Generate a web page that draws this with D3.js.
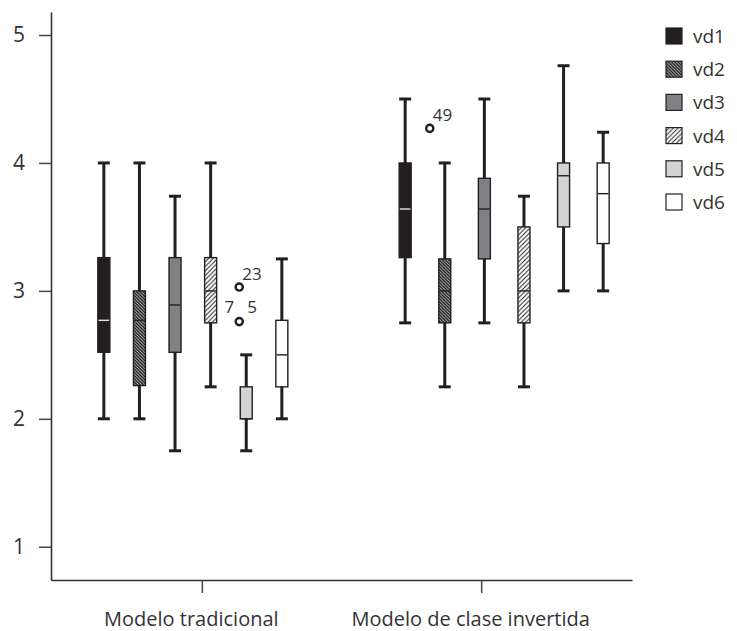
<!DOCTYPE html>
<html>
<head>
<meta charset="utf-8">
<script src="https://cdn.jsdelivr.net/npm/d3@7"></script>
<style>
  body { margin: 0; background: #fff; }
  svg { display: block; font-family: "Open Sans", "Noto Sans", sans-serif; }
</style>
</head>
<body>
<svg></svg>
<script>
// data
var groups = ["Modelo tradicional", "Modelo de clase invertida"];
var series = ["vd1", "vd2", "vd3", "vd4", "vd5", "vd6"];

// one row per group, one value per series
var whiskerLow  = [[2.00, 2.00, 1.75, 2.25, 1.75, 2.00], [2.75, 2.25, 2.75, 2.25, 3.00, 3.00]];
var q1          = [[2.52, 2.26, 2.52, 2.75, 2.00, 2.25], [3.26, 2.75, 3.25, 2.75, 3.50, 3.37]];
var median      = [[2.77, 2.77, 2.89, 3.00, 2.00, 2.50], [3.64, 3.00, 3.64, 3.00, 3.90, 3.76]];
var q3          = [[3.26, 3.00, 3.26, 3.26, 2.25, 2.77], [4.00, 3.25, 3.88, 3.50, 4.00, 4.00]];
var whiskerHigh = [[4.00, 4.00, 3.74, 4.00, 2.50, 3.25], [4.50, 4.00, 4.50, 3.74, 4.76, 4.24]];

// outliers (case numbers as labels)
var outlierGroup  = [0, 0, 1];
var outlierSeries = [4, 4, 1];
var outlierValue  = [3.03, 2.76, 4.27];
var outlierLabels = [["23"], ["7", "5"], ["49"]];

var yTicks = [1, 2, 3, 4, 5];

// layout
var svgWidth = 737, svgHeight = 631;
var boxWidth = 12, capWidth = 12;
var innerRange = [[-98, 80], [-76, 122]];   // box slots around each group tick
var outlierShift = [-7, -15];               // outliers sit a bit left of their box
var ink = "#231f20";

var svg = d3.select("svg")
    .attr("width", svgWidth)
    .attr("height", svgHeight);

// hatch patterns for vd2 and vd4
var defs = svg.append("defs");
defs.append("pattern")
    .attr("id", "hatchBack")
    .attr("patternUnits", "userSpaceOnUse")
    .attr("width", 3.2).attr("height", 3.2)
    .call(function(p) {
        p.append("rect").attr("width", 3.2).attr("height", 3.2).attr("fill", "#bbb");
        p.append("path")
            .attr("d", "M0,0L3.2,3.2M-1,2.2L1,4.2M2.2,-1L4.2,1")
            .attr("stroke", ink).attr("stroke-width", 1.4);
    });
defs.append("pattern")
    .attr("id", "hatchFwd")
    .attr("patternUnits", "userSpaceOnUse")
    .attr("width", 4.5).attr("height", 4.5)
    .call(function(p) {
        p.append("rect").attr("width", 4.5).attr("height", 4.5).attr("fill", "#fff");
        p.append("path")
            .attr("d", "M0,4.5L4.5,0M-1,1L1,-1M3.5,5.5L5.5,3.5")
            .attr("stroke", ink).attr("stroke-width", 1);
    });

var fills = [ink, "url(#hatchBack)", "#808184", "url(#hatchFwd)", "#d2d3d5", "#ffffff"];
var medianColor = ["#e6e6e6", ink, ink, ink, ink, ink];

var xScale = d3.scalePoint()
    .domain(groups)
    .range([51, 632])
    .padding(0.54);

var innerScale = innerRange.map(function(r) {
    return d3.scalePoint().domain(series).range(r);
});

var yScale = d3.scaleLinear()
    .domain([0.74, 5.18])
    .range([580, 12]);

function boxX(g, s) {
    return xScale(groups[g]) + innerScale[g](series[s]);
}

// axes
var y_axis = d3.axisLeft(yScale)
    .tickValues(yTicks)
    .tickFormat(d3.format("d"))
    .tickSize(12)
    .tickSizeOuter(0)
    .tickPadding(14);

var gy = svg.append("g")
    .attr("transform", "translate(51, 0)")
    .call(y_axis);

var x_axis = d3.axisBottom(xScale)
    .tickSize(13)
    .tickSizeOuter(0)
    .tickPadding(19);

var gx = svg.append("g")
    .attr("transform", "translate(0, 580)")
    .call(x_axis);

[gx, gy].forEach(function(g) {
    g.select(".domain").attr("stroke", "#333").attr("stroke-width", 1.6);
    g.selectAll(".tick line").attr("stroke", "#444").attr("stroke-width", 1.5);
    g.selectAll(".tick text")
        .attr("font-family", "'Open Sans', 'Noto Sans', sans-serif")
        .attr("font-size", 20)
        .attr("fill", "#333");
});
gy.selectAll(".tick text").attr("font-size", 21);
gx.selectAll(".tick text").attr("dx", -11);

// one record per box
var boxes = [];
groups.forEach(function(gName, g) {
    series.forEach(function(sName, s) {
        boxes.push({ g: g, s: s });
    });
});

var box = svg.append("g").selectAll("g")
    .data(boxes)
    .enter()
    .append("g")
    .attr("transform", function(d) {
        return "translate(" + boxX(d.g, d.s) + ",0)";
    });

// whisker stem
box.append("line")
    .attr("x1", 0).attr("x2", 0)
    .attr("y1", function(d) { return yScale(whiskerLow[d.g][d.s]); })
    .attr("y2", function(d) { return yScale(whiskerHigh[d.g][d.s]); })
    .attr("stroke", ink)
    .attr("stroke-width", 3);

// caps
[whiskerLow, whiskerHigh].forEach(function(arr) {
    box.append("line")
        .attr("x1", -capWidth / 2).attr("x2", capWidth / 2)
        .attr("y1", function(d) { return yScale(arr[d.g][d.s]); })
        .attr("y2", function(d) { return yScale(arr[d.g][d.s]); })
        .attr("stroke", ink)
        .attr("stroke-width", 3);
});

// box
box.append("rect")
    .attr("x", -boxWidth / 2)
    .attr("width", boxWidth)
    .attr("y", function(d) { return yScale(q3[d.g][d.s]); })
    .attr("height", function(d) { return yScale(q1[d.g][d.s]) - yScale(q3[d.g][d.s]); })
    .attr("fill", function(d) { return fills[d.s]; })
    .attr("stroke", ink)
    .attr("stroke-width", 1.4);

// median
box.append("line")
    .attr("x1", -boxWidth / 2 + 0.7).attr("x2", boxWidth / 2 - 0.7)
    .attr("y1", function(d) { return yScale(median[d.g][d.s]); })
    .attr("y2", function(d) { return yScale(median[d.g][d.s]); })
    .attr("stroke", function(d) { return medianColor[d.s]; })
    .attr("stroke-width", 1.4);

// outliers
var out = svg.append("g").selectAll("g")
    .data(outlierValue)
    .enter()
    .append("g")
    .attr("transform", function(d, i) {
        var g = outlierGroup[i];
        var x = boxX(g, outlierSeries[i]) + outlierShift[g];
        return "translate(" + x + "," + yScale(d) + ")";
    });

out.append("circle")
    .attr("r", 3.6)
    .attr("fill", "#fff")
    .attr("stroke", ink)
    .attr("stroke-width", 2.4);

out.each(function(d, i) {
    var labels = outlierLabels[i];
    var sel = d3.select(this);
    if (labels.length == 1) {
        sel.append("text").attr("x", 3).attr("y", -7).text(labels[0]);
    } else {
        sel.append("text").attr("x", -5).attr("y", -9).attr("text-anchor", "end").text(labels[0]);
        sel.append("text").attr("x", 8).attr("y", -9).text(labels[1]);
    }
});
out.selectAll("text")
    .attr("font-size", 17)
    .attr("fill", "#333");

// legend
var legend = svg.append("g").selectAll("g")
    .data(series)
    .enter()
    .append("g")
    .attr("transform", function(d, i) {
        return "translate(666," + (36 + i * 33.2) + ")";
    });

legend.append("rect")
    .attr("x", 0).attr("y", -8)
    .attr("width", 16).attr("height", 16)
    .attr("fill", function(d, i) { return fills[i]; })
    .attr("stroke", ink)
    .attr("stroke-width", 1.2);

legend.append("text")
    .attr("x", 27)
    .attr("y", 7)
    .attr("font-size", 19)
    .attr("fill", "#333")
    .text(function(d) { return d; });
</script>
</body>
</html>
